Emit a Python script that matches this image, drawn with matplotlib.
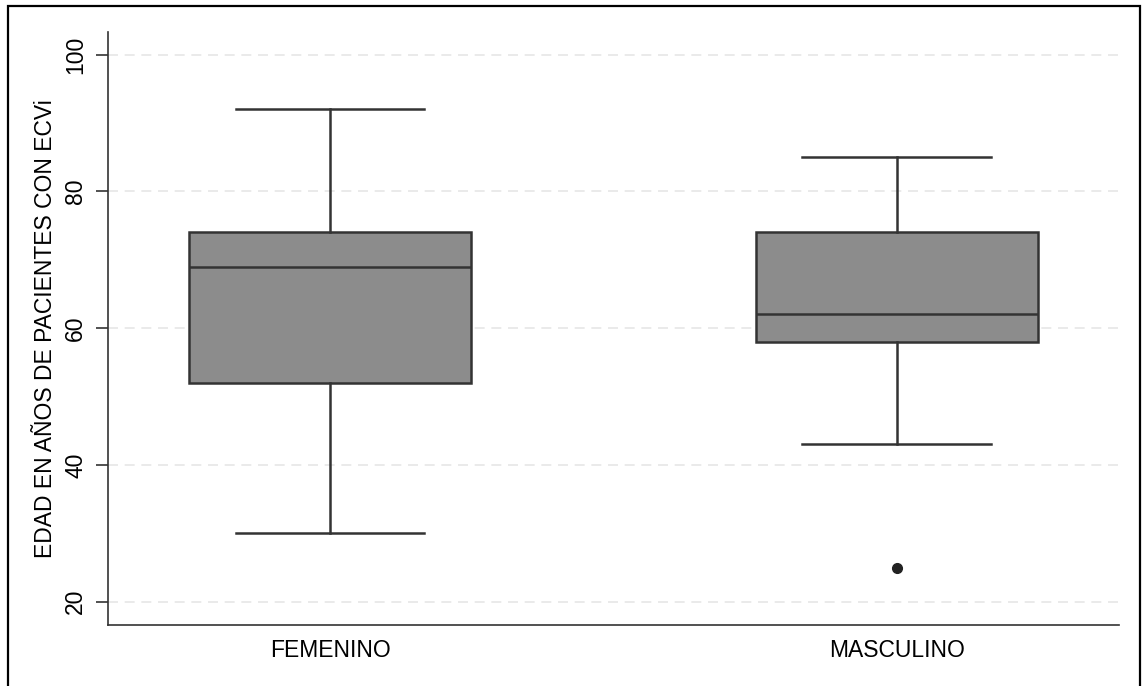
import matplotlib
matplotlib.use("Agg")
from matplotlib import pyplot as plt
from matplotlib.patches import Rectangle

plt.rcParams["font.family"] = ["Liberation Sans", "DejaVu Sans"]

# box plot statistics
groups = ["FEMENINO", "MASCULINO"]
whislo = [30, 43]
q1 = [52, 58]
med = [69, 62]
q3 = [74, 74]
whishi = [92, 85]
fliers = [[], [25]]

yticks = [20, 40, 60, 80, 100]
ylabel = "EDAD EN AÑOS DE PACIENTES CON ECVi"

stats = []
for i in range(len(groups)):
	stats.append({"label": groups[i], "whislo": whislo[i], "q1": q1[i], "med": med[i],
		"q3": q3[i], "whishi": whishi[i], "fliers": fliers[i]})

fig = plt.figure(figsize=(11.46, 6.86), dpi=100)
ax = fig.add_axes([0.0942, 0.0889, 0.8822, 0.8645])

edge = "#333333"
ax.bxp(stats, positions=[1, 2], widths=0.497, patch_artist=True, showfliers=True,
	boxprops=dict(facecolor="#8c8c8c", edgecolor=edge, linewidth=1.8),
	medianprops=dict(color=edge, linewidth=1.8),
	whiskerprops=dict(color=edge, linewidth=1.8),
	capprops=dict(color=edge, linewidth=1.8),
	capwidths=0.333,
	flierprops=dict(marker="o", markerfacecolor="#222222", markeredgecolor="#222222", markersize=7))

ax.set_xlim(0.608, 2.392)
ax.set_ylim(16.6, 103.3)
ax.set_yticks(yticks)
ax.set_yticklabels([str(t) for t in yticks], rotation=90, va="center", fontsize=16.5)
ax.tick_params(axis="y", length=9, width=1.2, color=edge, pad=6)
ax.tick_params(axis="x", length=0, pad=10, labelsize=16.5)
ax.set_ylabel(ylabel, fontsize=16.5, labelpad=5)

ax.yaxis.grid(True, color="#e6e6e6", linestyle=(0, (6, 4)), linewidth=1.2)
ax.set_axisbelow(True)
for s in ["top", "right"]:
	ax.spines[s].set_visible(False)
for s in ["left", "bottom"]:
	ax.spines[s].set_color(edge)
	ax.spines[s].set_linewidth(1.2)

# outer frame
fig.patches.append(Rectangle((8 / 1146, -0.05), 1132 / 1146, 1.041, transform=fig.transFigure,
	fill=False, edgecolor="black", linewidth=1.6))

fig.savefig("out.png", dpi=100)
